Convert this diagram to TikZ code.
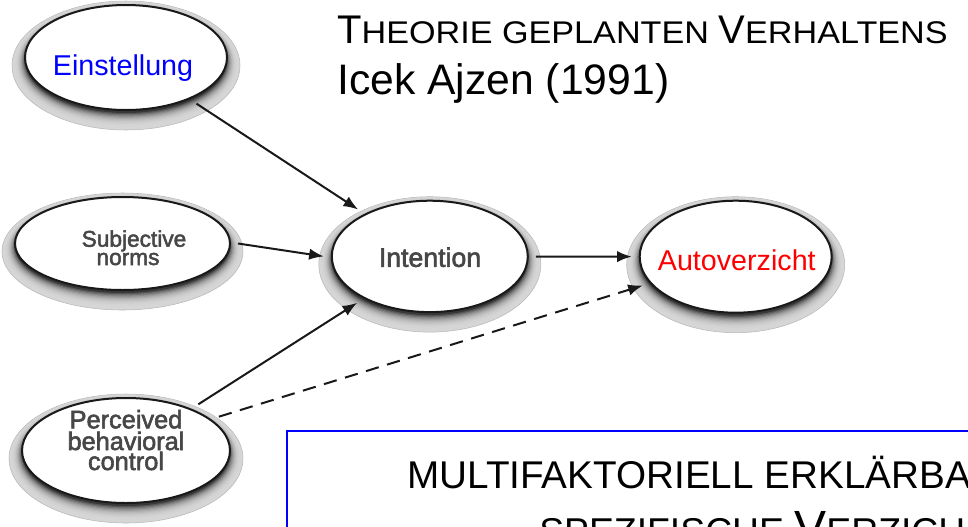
\documentclass[tikz,border=0pt]{standalone}
\usepackage{fontspec}
\setmainfont{Liberation Sans}
\newfontfamily\ovalfont[FakeBold=2.2]{Liberation Sans}
\newfontfamily\widefont[FakeStretch=1.09]{Liberation Sans}
\usetikzlibrary{shapes.geometric,arrows.meta}

% shaded rim under an oval: centre x, centre y, x radius, y radius (px)
\newcommand\ovalrim[4]{%
  \fill[black!16, draw=black!28, line width=0.4pt] (#1,#2+8) ellipse [x radius=#3+13, y radius=#4+12];
  \foreach \s in {1,2,...,14}{%
    \pgfmathsetmacro\t{\s/14}%
    \pgfmathsetmacro\tone{16+62*\t*\t*\t}%
    \fill[black!\tone] (#1,{#2+8-5*\t}) ellipse [x radius={#3+13-13*\t}, y radius={#4+12-12*\t}];
  }%
}

\tikzset{
  oval/.style={ellipse, draw=black!90, line width=1.5pt, fill=white, inner sep=0pt, outer sep=6pt},
  ovaltext/.style={anchor=base, inner sep=0pt, text=black!72, font=\ovalfont\fontsize{17}{17}\selectfont},
  keytext/.style={anchor=base, inner sep=0pt, font=\fontsize{21.5}{21.5}\selectfont},
  link/.style={draw=black!90, line width=1.5pt, -{Latex[length=11pt,width=8.5pt]}},
  dashlink/.style={link, dash pattern=on 10pt off 6.5pt},
  heading/.style={anchor=base west, inner sep=0pt, text=black},
  framebox/.style={draw=blue, line width=1.5pt},
}

\begin{document}
\begin{tikzpicture}[x=0.75pt, y=-0.75pt]
  \useasboundingbox (0,0) rectangle (968,526);
  \fill[white] (0,0) rectangle (968,526);
  \clip (0,0) rectangle (968,526);

  % ovals with their rims
  \ovalrim{126}{57.5}{101}{52.5}
  \node[oval, minimum width=151.5pt, minimum height=78.75pt] (ein) at (126,57.5) {};
  \ovalrim{122.5}{243.5}{107.5}{46.5}
  \node[oval, minimum width=161.25pt, minimum height=69.75pt] (sub) at (122.5,243.5) {};
  \ovalrim{126}{450.5}{104}{52.5}
  \node[oval, minimum width=156pt, minimum height=78.75pt] (per) at (126,450.5) {};
  \ovalrim{429.8}{256.4}{98}{55.7}
  \node[oval, minimum width=147pt, minimum height=83.55pt] (int) at (429.8,256.4) {};
  \ovalrim{735.7}{256.7}{96}{56}
  \node[oval, minimum width=144pt, minimum height=84pt] (aut) at (735.7,256.7) {};

  % oval labels
  \node[keytext, text=blue] (ein-t) at (123,75) {Einstellung};
  \node[ovaltext] (sub-t1) at (134,246.7) {Subjective};
  \node[ovaltext] (sub-t2) at (128,265) {norms};
  \node[ovaltext, font=\ovalfont\fontsize{19}{19}\selectfont] (per-t1) at (126,428.3) {Perceived};
  \node[ovaltext, font=\ovalfont\fontsize{19}{19}\selectfont] (per-t2) at (126,450) {behavioral};
  \node[ovaltext, font=\ovalfont\fontsize{19}{19}\selectfont] (per-t3) at (126,470) {control};
  \node[ovaltext, font=\ovalfont\fontsize{20}{20}\selectfont] (int-t) at (430,266.8) {Intention};
  \node[keytext, text=red] (aut-t) at (736.8,270.1) {Autoverzicht};

  % connectors
  \draw[link] (ein) -- (int);
  \draw[link] (sub.east) -- (int.west);
  \draw[link] (per) -- (int);
  \draw[link] (int) -- (aut);
  \draw[dashlink] (per.20) -- (aut);

  % heading
  \node[heading] (title) at (337,43.6)
    {\fontsize{30}{30}\selectfont T\widefont\fontsize{23.5}{23.5}\selectfont HEORIE GEPLANTEN
     \normalfont\fontsize{30}{30}\selectfont V\widefont\fontsize{23.5}{23.5}\selectfont ERHALTENS};
  \node[heading, font=\fontsize{32}{32}\selectfont] (author) at (337,94.6) {Icek Ajzen (1991)};

  % framed statement
  \coordinate (frame-nw) at (287,431);
  \coordinate (frame-se) at (990,560);
  \draw[framebox] (frame-nw) rectangle (frame-se);
  \node[heading, font=\fontsize{29}{29}\selectfont] (claim1) at (407,488) {MULTIFAKTORIELL ERKLÄRBA};
  \node[heading] (claim2) at (539,544.5)
    {\fontsize{28}{28}\selectfont SPEZIFISCHE \fontsize{36}{36}\selectfont V\fontsize{28}{28}\selectfont ERZICH};
\end{tikzpicture}
\end{document}
